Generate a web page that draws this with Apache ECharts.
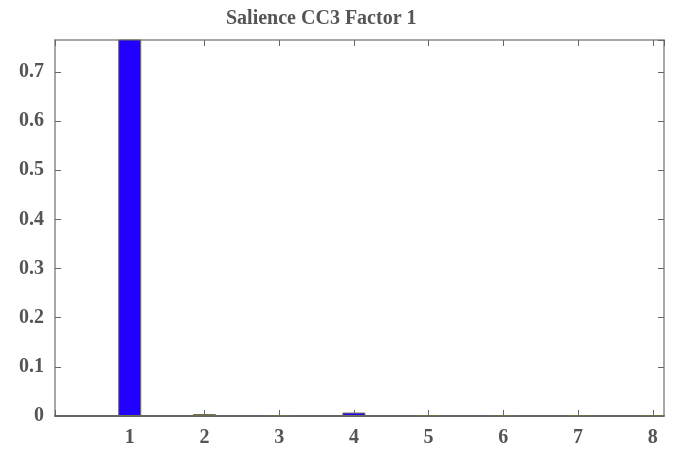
<!DOCTYPE html>
<html>
<head>
<meta charset="utf-8">
<script src="https://cdn.jsdelivr.net/npm/echarts@6/dist/echarts.min.js"></script>
<style>html,body{margin:0;padding:0;background:#fff}#c{width:673px;height:449px}</style>
</head>
<body>
<div id="c"></div>
<script>
var titleText = 'Salience CC3 Factor 1';
var categories = [1, 2, 3, 4, 5, 6, 7, 8];
var values = [0.78, 0.004, 0.0015, 0.007, 0.0015, 0.0015, 0.0015, 0.0015];
var yTicks = [0, 0.1, 0.2, 0.3, 0.4, 0.5, 0.6, 0.7];

var chart = echarts.init(document.getElementById('c'), null, {renderer: 'canvas'});
var font = 'Liberation Serif';
var labelColor = '#555';
var axisColor = '#8a8a8a';
var data = categories.map(function (c, i) { return [c, values[i]]; });

var xCommon = {
  type: 'value', min: 0, max: 8.15, interval: 1,
  splitLine: {show: false}
};
var yCommon = {
  type: 'value', min: 0, max: 0.765, interval: 0.1,
  splitLine: {show: false}
};

chart.setOption({
  animation: false,
  backgroundColor: '#fff',
  title: {
    text: titleText, left: 221, top: 4,
    textStyle: {fontFamily: font, fontWeight: 'bold', fontSize: 20, color: labelColor}
  },
  grid: {left: 55, right: 9, top: 40, bottom: 33, containLabel: false},
  xAxis: [
    Object.assign({}, xCommon, {
      position: 'bottom',
      axisLine: {show: true, onZero: false, lineStyle: {color: '#333', width: 1.5}},
      axisTick: {show: true, inside: true, length: 6, lineStyle: {color: '#666'}},
      axisLabel: {
        show: true, margin: 12, fontFamily: font, fontWeight: 'bold', fontSize: 20, color: labelColor,
        showMaxLabel: false,
        formatter: function (v) { return categories.indexOf(v) >= 0 ? String(v) : ''; }
      }
    }),
    Object.assign({}, xCommon, {
      position: 'top',
      axisLine: {show: true, onZero: false, lineStyle: {color: axisColor, width: 1.5}},
      axisTick: {show: true, inside: true, length: 6, lineStyle: {color: '#666'}},
      axisLabel: {show: false}
    })
  ],
  yAxis: [
    Object.assign({}, yCommon, {
      position: 'left',
      axisLine: {show: true, onZero: false, lineStyle: {color: axisColor, width: 1.5}},
      axisTick: {show: true, inside: true, length: 6, lineStyle: {color: '#666'}},
      axisLabel: {
        show: true, margin: 11, fontFamily: font, fontWeight: 'bold', fontSize: 20, color: labelColor,
        showMaxLabel: false,
        formatter: function (v) {
          var r = Math.round(v * 10) / 10;
          return yTicks.indexOf(r) >= 0 && Math.abs(r - v) < 1e-6 ? (r === 0 ? '0' : r.toFixed(1)) : '';
        }
      }
    }),
    Object.assign({}, yCommon, {
      position: 'right',
      axisLine: {show: true, onZero: false, lineStyle: {color: axisColor, width: 1.5}},
      axisTick: {show: true, inside: true, length: 6, lineStyle: {color: '#666'}},
      axisLabel: {show: false}
    })
  ],
  series: [{
    type: 'bar',
    xAxisIndex: 0, yAxisIndex: 0,
    data: data,
    barWidth: 23,
    clip: true,
    itemStyle: {color: '#2200ff', borderColor: '#6f6f50', borderWidth: 1}
  }]
});
</script>
</body>
</html>
